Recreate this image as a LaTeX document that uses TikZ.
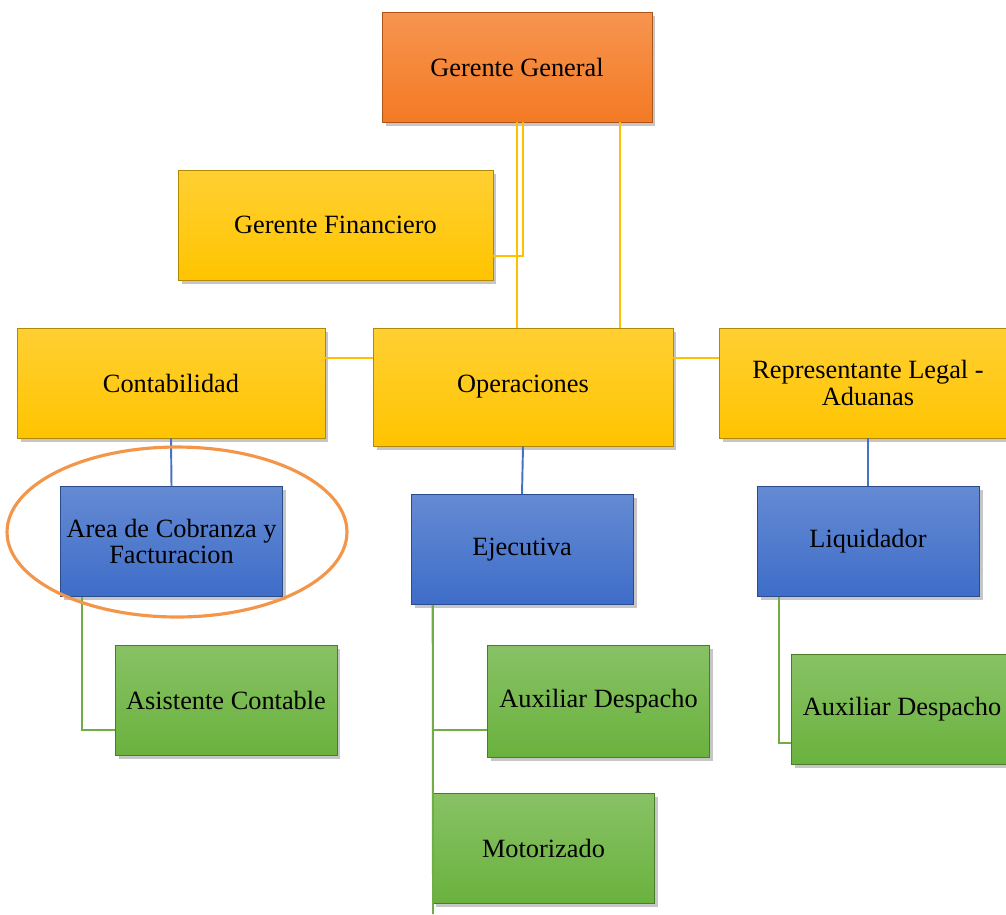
\documentclass[tikz,border=0pt]{standalone}
\usepackage{fontspec}
\setmainfont{Liberation Serif}
\usetikzlibrary{shadows}

\definecolor{orangebox}{HTML}{F47A24}
\definecolor{yellowbox}{HTML}{FFC400}
\definecolor{bluebox}{HTML}{3E6DC8}
\definecolor{greenbox}{HTML}{6AB23E}
\definecolor{yellowline}{HTML}{FFC000}
\definecolor{blueline}{HTML}{4472C4}
\definecolor{greenline}{HTML}{70AD47}
\definecolor{ringcolor}{HTML}{F4964A}

\begin{document}
\begin{tikzpicture}[x=0.02cm,y=-0.02cm,
  box/.style={rectangle, draw=#1!70!black, line width=0.4pt,
    top color=#1!80!white, bottom color=#1,
    drop shadow={shadow xshift=2pt, shadow yshift=-2pt, opacity=0.45},
    minimum width=4.44cm, minimum height=2.2cm, align=center,
    font=\fontsize{15}{15}\selectfont},
  yline/.style={draw=yellowline, line width=1.1pt},
  bline/.style={draw=blueline, line width=1.1pt},
  gline/.style={draw=greenline, line width=1.1pt}]

  \useasboundingbox (0,0) rectangle (1006,914);

  % top levels
  \node[box=orangebox, minimum width=5.4cm] (gg) at (517,67) {Gerente General};
  \node[box=yellowbox, minimum width=6.3cm] (gf) at (335.5,225) {Gerente Financiero};
  \node[box=yellowbox, minimum width=6.16cm] (cont) at (171,383) {Contabilidad};
  \node[box=yellowbox, minimum width=6cm, minimum height=2.36cm] (oper) at (523,387) {Operaciones};
  \node[box=yellowbox, minimum width=5.96cm] (rep) at (868,383) {Representante Legal -\\Aduanas};

  % blue level
  \node[box=bluebox] (area) at (171.5,541.5) {Area de Cobranza y\\Facturacion};
  \node[box=bluebox] (ejec) at (522,549.5) {Ejecutiva};
  \node[box=bluebox] (liq) at (868,541.5) {Liquidador};

  % green level
  \node[box=greenbox] (asis) at (226,700) {Asistente Contable};
  \node[box=greenbox, minimum height=2.24cm] (auxm) at (598.5,701) {Auxiliar Despacho};
  \node[box=greenbox] (auxr) at (902,709.5) {Auxiliar Despacho};
  \node[box=greenbox] (moto) at (543.5,848.5) {Motorizado};

  \coordinate (low) at (433,914);

  % connectors
  \draw[yline] ([xshift=0.12cm]gg.south) |- ([yshift=-0.62cm]gf.east);
  \draw[yline] (gg.south) -- (gg.south |- oper.north);
  \draw[yline] ([xshift=2.06cm]gg.south) -- ([xshift=2.06cm]gg.south |- oper.north);
  \draw[yline] ([yshift=0.5cm]cont.east) -- ([yshift=0.5cm]cont.east -| oper.west);
  \draw[yline] ([yshift=0.5cm]rep.west) -- ([yshift=0.5cm]rep.west -| oper.east);

  \draw[bline] (cont.south) -- (area.north);
  \draw[bline] (oper.south) -- (ejec.north);
  \draw[bline] (rep.south) -- (liq.north);

  \draw[gline] ([xshift=0.44cm]area.south west) |- ([yshift=-0.6cm]asis.west);
  \draw[gline] ([xshift=0.44cm]ejec.south west) |- ([yshift=-0.58cm]auxm.west);
  \draw[gline] ([xshift=0.44cm]ejec.south west) -- (low);
  \draw[gline] ([xshift=0.44cm]liq.south west) |- ([yshift=-0.67cm]auxr.west);

  % highlight
  \draw[ringcolor, line width=1.8pt] (177,532) ellipse [x radius=3.4cm, y radius=1.7cm];
\end{tikzpicture}
\end{document}
